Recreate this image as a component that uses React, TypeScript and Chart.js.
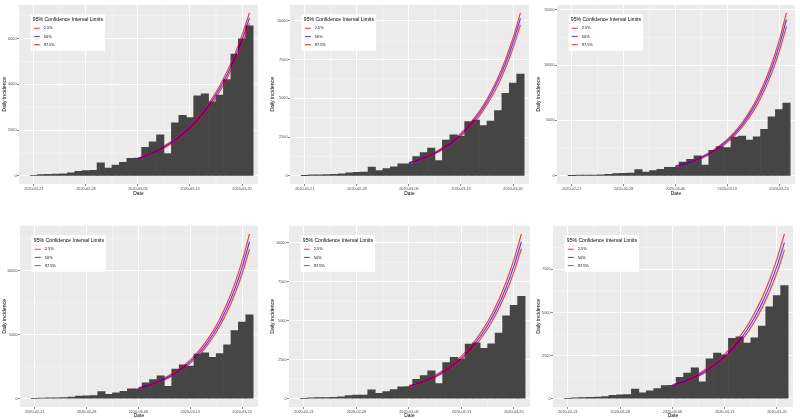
import React, { useEffect, useRef } from "react";
import { Chart, registerables } from "chart.js";

Chart.register(...registerables);

// ---------- data ----------
const dates = [
  "2020-02-21", "2020-02-22", "2020-02-23", "2020-02-24", "2020-02-25", "2020-02-26",
  "2020-02-27", "2020-02-28", "2020-02-29", "2020-03-01", "2020-03-02", "2020-03-03",
  "2020-03-04", "2020-03-05", "2020-03-06", "2020-03-07", "2020-03-08", "2020-03-09",
  "2020-03-10", "2020-03-11", "2020-03-12", "2020-03-13", "2020-03-14", "2020-03-15",
  "2020-03-16", "2020-03-17", "2020-03-18", "2020-03-19", "2020-03-20", "2020-03-21",
];
const dailyIncidence = [
  17, 59, 71, 79, 93, 131, 202, 233, 240, 566, 342, 466, 587, 769, 778,
  1247, 1492, 1797, 977, 2313, 2651, 2547, 3497, 3590, 3233, 3526, 4207, 5322, 5986, 6557,
];
const projectionDates = [
  "2020-03-06", "2020-03-07", "2020-03-08", "2020-03-09", "2020-03-10", "2020-03-11",
  "2020-03-12", "2020-03-13", "2020-03-14", "2020-03-15", "2020-03-16", "2020-03-17",
  "2020-03-18", "2020-03-19", "2020-03-20", "2020-03-21",
];
const xTickLabels = ["2020-02-21", "2020-02-28", "2020-03-06", "2020-03-13", "2020-03-20"];
const legendTitle = "95% Confidence Interval Limits";
const legendLabels = ["2.5%", "50%", "97.5%"];

// panel 1
const p1Lower = [725, 841, 975, 1130, 1310, 1519, 1762, 2042, 2368, 2745, 3182, 3690, 4278, 4961, 5751, 6667];
const p1Median = [750, 870, 1008, 1169, 1355, 1571, 1822, 2112, 2449, 2839, 3291, 3816, 4424, 5130, 5947, 6895];
const p1Upper = [775, 899, 1041, 1208, 1400, 1623, 1882, 2182, 2530, 2933, 3400, 3942, 4570, 5299, 6143, 7123];
const p1YTicks = [0, 2000, 4000, 6000];
// panel 2
const p2Lower = [790, 934, 1104, 1306, 1544, 1825, 2158, 2552, 3016, 3566, 4216, 4984, 5893, 6968, 8238, 9739];
const p2Median = [823, 973, 1150, 1360, 1608, 1901, 2248, 2658, 3142, 3715, 4392, 5192, 6139, 7258, 8581, 10145];
const p2Upper = [852, 1007, 1190, 1408, 1664, 1968, 2327, 2751, 3252, 3845, 4546, 5374, 6354, 7512, 8881, 10500];
const p2YTicks = [0, 2500, 5000, 7500, 10000];
// panel 3
const p3Lower = [817, 985, 1187, 1431, 1725, 2079, 2506, 3021, 3641, 4390, 5292, 6379, 7691, 9271, 11176, 13473];
const p3Median = [855, 1031, 1243, 1498, 1806, 2177, 2624, 3163, 3813, 4597, 5541, 6680, 8053, 9708, 11703, 14108];
const p3Upper = [891, 1074, 1295, 1561, 1882, 2268, 2734, 3296, 3973, 4790, 5774, 6961, 8391, 10116, 12195, 14701];
const p3YTicks = [0, 5000, 10000, 15000];
// panel 4
const p4Lower = [781, 936, 1121, 1342, 1608, 1925, 2305, 2761, 3307, 3960, 4743, 5680, 6803, 8146, 9756, 11684];
const p4Median = [820, 982, 1176, 1408, 1687, 2020, 2419, 2897, 3470, 4155, 4977, 5960, 7138, 8548, 10237, 12260];
const p4Upper = [860, 1030, 1234, 1477, 1770, 2119, 2538, 3039, 3640, 4359, 5221, 6252, 7488, 8967, 10739, 12861];
const p4YTicks = [0, 5000, 10000];
// panel 5
const p5Lower = [764, 904, 1071, 1268, 1501, 1777, 2104, 2491, 2949, 3491, 4133, 4892, 5793, 6858, 8119, 9612];
const p5Median = [800, 947, 1121, 1328, 1572, 1861, 2203, 2608, 3088, 3655, 4328, 5123, 6066, 7181, 8502, 10065];
const p5Upper = [839, 993, 1176, 1393, 1649, 1952, 2311, 2736, 3239, 3834, 4540, 5374, 6363, 7533, 8919, 10558];
const p5YTicks = [0, 2500, 5000, 7500, 10000];
// panel 6
const p6Lower = [743, 874, 1029, 1212, 1428, 1681, 1979, 2330, 2745, 3231, 3805, 4480, 5276, 6213, 7315, 8614];
const p6Median = [780, 918, 1081, 1273, 1500, 1766, 2079, 2448, 2883, 3394, 3997, 4706, 5542, 6526, 7684, 9048];
const p6Upper = [823, 968, 1140, 1343, 1583, 1863, 2193, 2583, 3042, 3581, 4217, 4965, 5847, 6885, 8107, 9546];
const p6YTicks = [0, 2500, 5000, 7500];

// ---------- styles ----------
const FONT = '"Liberation Sans", Arial, sans-serif';
const RED = "rgba(255,0,0,0.75)";
const BLUE = "rgba(0,0,255,0.7)";
const BAR = "#454545";
const PANEL_BG = "#EBEBEB";

type Geom = { left: number; top: number; w: number; h: number; yW: number; xH: number; xMin: number; xMax: number };

const dayIndex = (d: string) => dates.indexOf(d);

function makeChart(canvas: HTMLCanvasElement, g: Geom, lower: number[], median: number[], upper: number[], yTicks: number[]) {
  const M = Math.max(...upper, ...dailyIncidence);
  const yMin = -0.05 * M;
  const yMax = 1.05 * M;
  const xTicks = xTickLabels.map(dayIndex);

  const line = (vals: number[], color: string, label: string, order: number) => ({
    type: "line" as const,
    label,
    data: projectionDates.map((d, i) => ({ x: dayIndex(d), y: vals[i] })),
    borderColor: color,
    backgroundColor: color,
    borderWidth: 1.2,
    pointRadius: 0,
    cubicInterpolationMode: "monotone" as const,
    fill: false,
    order,
  });

  const bgPlugin = {
    id: "ggBackground",
    beforeDraw(chart: any) {
      const { ctx, chartArea: a, scales } = chart;
      const x = scales.x;
      const y = scales.y;
      ctx.save();
      ctx.fillStyle = PANEL_BG;
      ctx.fillRect(a.left, a.top, a.right - a.left, a.bottom - a.top);
      ctx.strokeStyle = "rgba(255,255,255,0.8)";
      ctx.lineWidth = 0.5;
      const xs = xTicks[1] - xTicks[0];
      const xm = [xTicks[0] - xs / 2, ...xTicks.map((t) => t + xs / 2)];
      xm.forEach((v) => {
        if (v <= g.xMin || v >= g.xMax) return;
        const px = x.getPixelForValue(v);
        ctx.beginPath();
        ctx.moveTo(px, a.top);
        ctx.lineTo(px, a.bottom);
        ctx.stroke();
      });
      const ys = yTicks[1] - yTicks[0];
      const ym = [yTicks[0] - ys / 2, ...yTicks.map((t) => t + ys / 2)];
      ym.forEach((v) => {
        if (v <= yMin || v >= yMax) return;
        const py = y.getPixelForValue(v);
        ctx.beginPath();
        ctx.moveTo(a.left, py);
        ctx.lineTo(a.right, py);
        ctx.stroke();
      });
      ctx.restore();
    },
  };

  const legendPlugin = {
    id: "ggLegend",
    afterDatasetsDraw(chart: any) {
      const { ctx, chartArea: a } = chart;
      const bx = a.left + 11.5;
      const by = a.top + 9.5;
      ctx.save();
      ctx.fillStyle = "#ffffff";
      ctx.fillRect(bx, by, 74.5, 36.5);
      ctx.fillStyle = "#000000";
      ctx.textBaseline = "middle";
      ctx.textAlign = "left";
      ctx.font = `5.1px ${FONT}`;
      ctx.fillText(legendTitle, bx + 2.3, by + 4.9);
      ctx.font = `3.9px ${FONT}`;
      const colors = [RED, BLUE, RED];
      legendLabels.forEach((lab, i) => {
        const yy = by + 14 + i * 8.15;
        ctx.strokeStyle = colors[i];
        ctx.lineWidth = 1.1;
        ctx.beginPath();
        ctx.moveTo(bx + 3.3, yy);
        ctx.lineTo(bx + 9.3, yy);
        ctx.stroke();
        ctx.fillStyle = "#000000";
        ctx.fillText(lab, bx + 13.3, yy);
      });
      ctx.restore();
    },
  };

  return new Chart(canvas, {
    type: "bar",
    data: {
      datasets: [
        line(lower, RED, legendLabels[0], 1),
        line(median, BLUE, legendLabels[1], 0),
        line(upper, RED, legendLabels[2], 1),
        {
          type: "bar" as const,
          label: "Daily incidence",
          data: dates.map((d, i) => ({ x: dayIndex(d), y: dailyIncidence[i] })),
          backgroundColor: BAR,
          borderWidth: 0,
          barPercentage: 1,
          categoryPercentage: 1,
          order: 3,
        } as any,
      ],
    },
    options: {
      animation: false,
      responsive: false,
      maintainAspectRatio: false,
      layout: { padding: 0 },
      plugins: { legend: { display: false }, tooltip: { enabled: false } },
      scales: {
        x: {
          type: "linear",
          min: g.xMin,
          max: g.xMax,
          offset: false,
          afterBuildTicks: (axis: any) => {
            axis.ticks = xTicks.map((v) => ({ value: v }));
          },
          afterFit: (s: any) => {
            s.height = g.xH;
          },
          ticks: {
            autoSkip: false,
            maxRotation: 0,
            padding: 0.5,
            color: "#4D4D4D",
            font: { family: FONT, size: 3.8 },
            callback: (v: any) => dates[Math.round(Number(v))] ?? "",
          },
          grid: { offset: false, color: "#ffffff", lineWidth: 1, tickLength: 2, tickColor: "#333333", tickWidth: 0.6 },
          border: { display: false },
          title: { display: true, text: "Date", color: "#000", font: { family: FONT, size: 4.9 }, padding: 0 },
        },
        y: {
          type: "linear",
          min: yMin,
          max: yMax,
          afterBuildTicks: (axis: any) => {
            axis.ticks = yTicks.map((v) => ({ value: v }));
          },
          afterFit: (s: any) => {
            s.width = g.yW;
          },
          ticks: {
            padding: 0.5,
            color: "#4D4D4D",
            font: { family: FONT, size: 3.8 },
            callback: (v: any) => String(v),
          },
          grid: { color: "#ffffff", lineWidth: 1, tickLength: 2, tickColor: "#333333", tickWidth: 0.6 },
          border: { display: false },
          title: { display: true, text: "Daily incidence", color: "#000", font: { family: FONT, size: 5.2 }, padding: 0 },
        },
      },
    } as any,
    plugins: [bgPlugin, legendPlugin],
  } as any);
}

function Panel(props: { g: Geom; lower: number[]; median: number[]; upper: number[]; yTicks: number[] }) {
  const ref = useRef<HTMLCanvasElement>(null);
  const { g } = props;
  useEffect(() => {
    const chart = makeChart(ref.current as HTMLCanvasElement, g, props.lower, props.median, props.upper, props.yTicks);
    return () => chart.destroy();
  }, []);
  return (
    <canvas
      ref={ref}
      width={g.w}
      height={g.h}
      style={{ position: "absolute", left: g.left, top: g.top, width: g.w, height: g.h }}
    />
  );
}

const geoms: Geom[] = [
  { left: 1, top: 2, w: 257, h: 195, yW: 18, xH: 13, xMin: -2.0, xMax: 30.15 },
  { left: 269, top: 2, w: 260, h: 195, yW: 21, xH: 13, xMin: -2.0, xMax: 30.15 },
  { left: 535, top: 2, w: 260, h: 195, yW: 22, xH: 13, xMin: -2.0, xMax: 30.15 },
  { left: 1, top: 223, w: 257, h: 196, yW: 19, xH: 12, xMin: -2.0, xMax: 30.15 },
  { left: 269, top: 223, w: 261, h: 196, yW: 20, xH: 12, xMin: -2.0, xMax: 30.15 },
  { left: 535, top: 223, w: 258, h: 196, yW: 18, xH: 12, xMin: -2.0, xMax: 30.15 },
];

export default function App() {
  return (
    <div style={{ position: "absolute", left: 0, top: 0, width: 800, height: 419, background: "#ffffff", overflow: "hidden" }}>
      <Panel g={geoms[0]} lower={p1Lower} median={p1Median} upper={p1Upper} yTicks={p1YTicks} />
      <Panel g={geoms[1]} lower={p2Lower} median={p2Median} upper={p2Upper} yTicks={p2YTicks} />
      <Panel g={geoms[2]} lower={p3Lower} median={p3Median} upper={p3Upper} yTicks={p3YTicks} />
      <Panel g={geoms[3]} lower={p4Lower} median={p4Median} upper={p4Upper} yTicks={p4YTicks} />
      <Panel g={geoms[4]} lower={p5Lower} median={p5Median} upper={p5Upper} yTicks={p5YTicks} />
      <Panel g={geoms[5]} lower={p6Lower} median={p6Median} upper={p6Upper} yTicks={p6YTicks} />
    </div>
  );
}
